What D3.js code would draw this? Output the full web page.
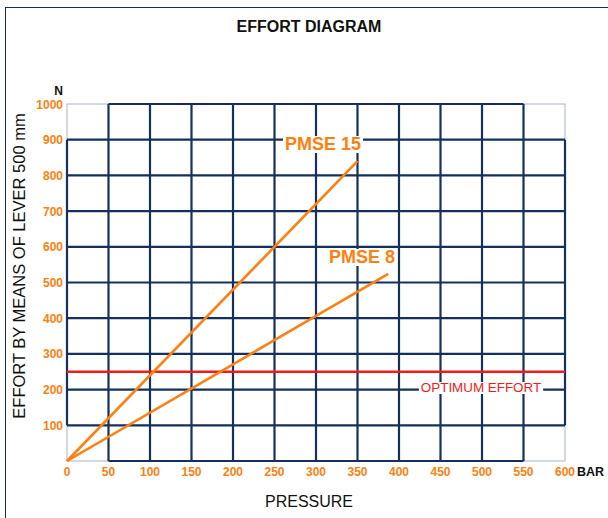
<!DOCTYPE html>
<html lang="en">
<head>
<meta charset="UTF-8" />
<script src="https://d3js.org/d3.v7.min.js"></script>
<title>Effort Diagram</title>
<style>
  body { margin: 0; background: #fff; }
  text { font-family: "Liberation Sans", Arial, sans-serif; }
</style>
</head>
<body>
<script>
// data
var xTicks = [0, 50, 100, 150, 200, 250, 300, 350, 400, 450, 500, 550, 600];
var yTicks = [100, 200, 300, 400, 500, 600, 700, 800, 900, 1000];
var pmse15 = [[0, 0], [350, 840]];
var pmse8 = [[0, 0], [387, 524]];
var optimum = 250;

var width = 608, height = 518;
var margin = { left: 67, right: 43, top: 104, bottom: 57 };

var navy = "#13305f", orange = "#ff7f10", red = "#f01c1c";

var svg = d3.select("body").append("svg")
    .attr("width", width).attr("height", height);

// outer frame (runs off the right and bottom)
svg.append("rect").attr("x", 5.5).attr("y", 7.5)
    .attr("width", 700).attr("height", 600)
    .attr("fill", "none").attr("stroke", navy).attr("stroke-width", 1);

var x = d3.scaleLinear().domain([0, 600]).range([margin.left, width - margin.right]);
var y = d3.scaleLinear().domain([0, 1000]).range([height - margin.bottom, margin.top]);

var g = svg.append("g");

// thin grey border of plot
g.append("rect").attr("x", x(0)).attr("y", y(1000))
    .attr("width", x(600) - x(0)).attr("height", y(0) - y(1000))
    .attr("fill", "none").attr("stroke", "#a9b3c6").attr("stroke-width", 1);

// grid
var inX = xTicks.filter(d => d > 0 && d < 600);
var inY = yTicks.filter(d => d < 1000);
g.selectAll(".vg").data(inX).enter().append("line")
    .attr("x1", d => x(d)).attr("x2", d => x(d))
    .attr("y1", y(1000)).attr("y2", y(0))
    .attr("stroke", navy).attr("stroke-width", 2.2);
g.selectAll(".hg").data(inY).enter().append("line")
    .attr("x1", x(0)).attr("x2", x(600))
    .attr("y1", d => y(d)).attr("y2", d => y(d))
    .attr("stroke", navy).attr("stroke-width", 2.2);
// border pieces drawn in navy
[[50, 1000, 550, 1000], [50, 0, 550, 0], [0, 100, 0, 900], [600, 100, 600, 900]].forEach(function (s) {
    g.append("line")
        .attr("x1", x(s[0])).attr("y1", y(s[1]))
        .attr("x2", x(s[2])).attr("y2", y(s[3]))
        .attr("stroke", navy).attr("stroke-width", 2.2);
});

// optimum line
g.append("line").attr("x1", x(0)).attr("x2", x(600))
    .attr("y1", y(optimum)).attr("y2", y(optimum))
    .attr("stroke", red).attr("stroke-width", 2.5);

var line = d3.line().x(d => x(d[0])).y(d => y(d[1]));
[pmse15, pmse8].forEach(function (d) {
    g.append("path").attr("d", line(d))
        .attr("fill", "none").attr("stroke", orange).attr("stroke-width", 2.6);
});

// labels with white background
function boxed(txt, cx, by, size, weight, color) {
    var t = g.append("text").attr("x", cx).attr("y", by)
        .attr("text-anchor", "middle").attr("font-size", size)
        .attr("font-weight", weight).attr("fill", color).text(txt);
    var b = t.node().getBBox();
    g.insert("rect", function () { return t.node(); })
        .attr("x", b.x - 2).attr("y", b.y + 2).attr("width", b.width + 4).attr("height", b.height - 3)
        .attr("fill", "#fff");
}
boxed("PMSE 15", 323, 150, 18, "bold", orange);
boxed("PMSE 8", 362, 263, 18, "bold", orange);
boxed("OPTIMUM EFFORT", 481, 392, 13.4, "normal", red);

// tick labels
svg.selectAll(".xt").data(xTicks).enter().append("text")
    .attr("x", d => x(d)).attr("y", y(0) + 15)
    .attr("text-anchor", "middle").attr("font-size", 12).attr("font-weight", "bold")
    .attr("fill", orange).text(d => d);
svg.selectAll(".yt").data(yTicks).enter().append("text")
    .attr("x", x(0) - 4).attr("y", d => y(d) + 4.5)
    .attr("text-anchor", "end").attr("font-size", 12).attr("font-weight", "bold")
    .attr("fill", orange).text(d => d);

svg.append("text").attr("x", x(600) + 12).attr("y", y(0) + 15)
    .attr("font-size", 12.5).attr("font-weight", "bold").attr("fill", "#111").text("BAR");
svg.append("text").attr("x", 63).attr("y", 95).attr("text-anchor", "end")
    .attr("font-size", 12).attr("font-weight", "bold").attr("fill", "#111").text("N");

svg.append("text").attr("x", 309).attr("y", 32).attr("text-anchor", "middle")
    .attr("font-size", 16).attr("font-weight", "bold").attr("fill", "#111").text("EFFORT DIAGRAM");
svg.append("text").attr("x", 309).attr("y", 507).attr("text-anchor", "middle")
    .attr("font-size", 16).attr("fill", "#111").text("PRESSURE");
svg.append("text").attr("transform", "translate(25,266) rotate(-90)")
    .attr("text-anchor", "middle").attr("font-size", 16.5).attr("fill", "#111")
    .text("EFFORT BY MEANS OF LEVER 500 mm");
</script>
</body>
</html>
